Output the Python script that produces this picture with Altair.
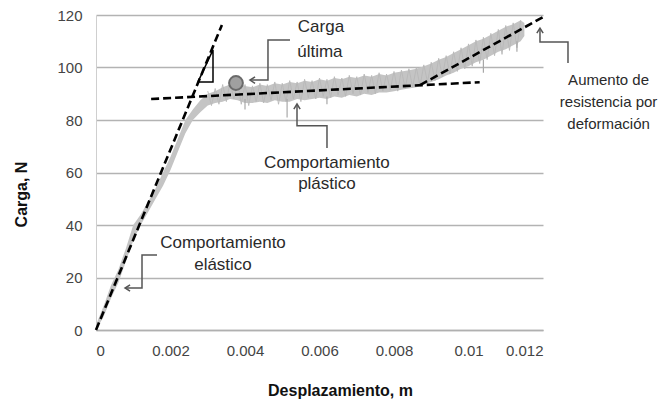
import altair as alt
import pandas as pd

# ---- measured curve (gray noisy band) ----
curve_x = [0.0000, 0.0002, 0.0004, 0.0006, 0.0008, 0.0010, 0.0012, 0.0014, 0.0016, 0.0018,
           0.0020, 0.0022, 0.0024, 0.0026, 0.0028, 0.0030, 0.0032, 0.0034, 0.0036, 0.0038,
           0.0040, 0.0042, 0.0044, 0.0046, 0.0048, 0.0050, 0.0052, 0.0054, 0.0056, 0.0058,
           0.0060, 0.0062, 0.0064, 0.0066, 0.0068, 0.0070, 0.0072, 0.0074, 0.0076, 0.0078,
           0.0080, 0.0082, 0.0084, 0.0086, 0.0088, 0.0090, 0.0092, 0.0094, 0.0096, 0.0098,
           0.0100, 0.0102, 0.0104, 0.0106, 0.0108, 0.0110, 0.0112, 0.0114, 0.0115]
curve_lo = [0, 5, 12, 18, 26, 34, 40, 45, 50, 55,
            61, 68, 75, 80, 83, 85.5, 86.5, 87, 88, 87.5,
            86.5, 86.5, 87, 86.5, 87.5, 87, 87, 88, 87.5, 88,
            88.5, 88, 89, 88.5, 89.5, 89, 90, 89.5, 90.5, 90.5,
            91, 91.5, 92, 92.5, 93.5, 94.5, 95.5, 97, 98, 99.5,
            100.5, 102, 103, 104.5, 106, 107, 108.5, 110, 112]
curve_hi = [2, 9, 17, 23, 31, 40, 44, 49, 54, 60,
            66, 73, 80, 84, 87.5, 90, 91, 92.5, 93.5, 94,
            93, 92.5, 93.5, 93, 94, 93.5, 94.5, 94, 95, 94.5,
            95.5, 95, 96, 95.5, 96.5, 96, 97, 96.5, 97.5, 97,
            98, 98.5, 99, 99.5, 100.5, 101.5, 103, 104, 105.5, 107,
            108.5, 110, 111, 112.5, 114, 115.5, 116.5, 118, 117]

# fine noise of the recorded signal (every 0.0001 m from 0.0030 to 0.0114)
noise_x = [round(0.0030 + 0.0001 * i, 4) for i in range(85)]
noise_y = [91, 85.5, 92, 86, 93.5, 87, 94.5, 88, 95, 86,
           93.5, 85.5, 93, 87, 94, 86.5, 93.5, 87.5, 94.5, 86,
           94, 87, 95, 88, 94.5, 87, 95.5, 88.5, 95, 88,
           96, 89, 95.5, 88.5, 96.5, 89.5, 96, 89, 97, 90,
           96.5, 89.5, 97.5, 90.5, 97, 90, 98, 91, 97.5, 91.5,
           98.5, 91, 99, 92, 99.5, 92.5, 100, 93, 101, 94.5,
           102, 95, 103.5, 96.5, 104.5, 97.5, 106, 98.5, 107.5, 99.5,
           109, 100.5, 110.5, 101.5, 111.5, 103, 113, 104.5, 114.5, 105,
           116, 106.5, 117, 107.5, 118]

# noise spikes (x, top, bottom)
spike_x = [0.0040, 0.00513, 0.0062, 0.0104, 0.0113]
spike_top = [88, 88, 89, 103, 110]
spike_bot = [84, 81, 86, 98, 106]

# ---- fitted dashed lines ----
fit_seg = ["elastica", "elastica", "plastica", "plastica", "endurec", "endurec"]
fit_x = [0.0, 0.00338, 0.00148, 0.0103, 0.0087, 0.01205]
fit_y = [0.0, 116.2, 88.0, 94.4, 93.3, 119.6]

# slope triangle
tri_x = [0.002738, 0.003141, 0.003141, 0.002738]
tri_y = [94.5, 94.5, 106.7, 94.5]

# ultimate load marker
ult_x = [0.003758]
ult_y = [94.1]

# ---- annotations ----
ann_group = ["u"] * 4 + ["p"] * 4 + ["e"] * 4 + ["a"] * 4
ann_x = [0.005208, 0.004617, 0.004617, 0.004134,
         0.006201, 0.006201, 0.005396, 0.005396,
         0.001638, 0.001235, 0.001235, 0.000779,
         0.012671, 0.012671, 0.011919, 0.011919]
ann_y = [110.5, 110.5, 95.2, 95.2,
         69.3, 77.8, 77.8, 86.1,
         28.6, 28.6, 16.0, 16.0,
         101.7, 109.7, 109.7, 115.0]

arrow_left_x = [0.004134, 0.000779]
arrow_left_y = [95.2, 16.0]
arrow_up_x = [0.005396, 0.011919]
arrow_up_y = [86.1, 115.0]

label_text = ["Carga", "última", "Comportamiento", "plástico",
              "Comportamiento", "elástico"]
label_x = [0.00604, 0.00601, 0.00620, 0.00620, 0.003409, 0.003409]
label_y = [115.4, 105.9, 63.6, 55.6, 33.1, 24.8]

right_text = ["Aumento de", "resistencia por", "deformación"]
right_x = [0.01376, 0.01376, 0.01376]
right_y = [95.2, 86.9, 78.5]

x_ticks = [0, 0.002, 0.004, 0.006, 0.008, 0.01, 0.012]
y_ticks = [0, 20, 40, 60, 80, 100, 120]

FONT = "Liberation Sans"

xs = alt.Scale(domain=[0, 0.012], nice=False, zero=False)
ys = alt.Scale(domain=[0, 120], nice=False)

band_df = pd.DataFrame({"x": curve_x, "lo": curve_lo, "hi": curve_hi})
band = alt.Chart(band_df).mark_area(color="#c4c4c4").encode(
    x=alt.X("x:Q", scale=xs,
            axis=alt.Axis(values=x_ticks, format="~g", title="Desplazamiento, m",
                          grid=False, ticks=False, labelPadding=13,
                          domainColor="#b0b0b0", domainWidth=1.5,
                          titleX=244, titleY=52, titleFontWeight="bold",
                          titleFontSize=16, titleColor="#111")),
    y=alt.Y("lo:Q", scale=ys,
            axis=alt.Axis(values=y_ticks, title="Carga, N", grid=True,
                          gridColor="#b3b3b3", gridWidth=1.5, ticks=False,
                          labelPadding=14, domainColor="#cfcfcf",
                          titleX=-75, titleY=179, titleBaseline="middle",
                          titleFontWeight="bold", titleFontSize=16, titleColor="#111")),
    y2="hi:Q",
)

noise_df = pd.DataFrame({"x": noise_x, "y": noise_y})
noise = alt.Chart(noise_df).mark_line(color="#b8b8b8", strokeWidth=0.9).encode(
    x=alt.X("x:Q", scale=xs), y=alt.Y("y:Q", scale=ys))

spike_df = pd.DataFrame({"x": spike_x, "t": spike_top, "b": spike_bot})
spikes = alt.Chart(spike_df).mark_rule(color="#a8a8a8", strokeWidth=1.2).encode(
    x=alt.X("x:Q", scale=xs), y=alt.Y("t:Q", scale=ys), y2="b:Q")

fit_df = pd.DataFrame({"seg": fit_seg, "x": fit_x, "y": fit_y})
fits = alt.Chart(fit_df).mark_line(color="#000", strokeWidth=2.6, strokeDash=[8, 4]).encode(
    x=alt.X("x:Q", scale=xs), y=alt.Y("y:Q", scale=ys), detail="seg:N")

tri_df = pd.DataFrame({"x": tri_x, "y": tri_y, "o": list(range(len(tri_x)))})
tri = alt.Chart(tri_df).mark_line(color="#000", strokeWidth=1.5).encode(
    x=alt.X("x:Q", scale=xs), y=alt.Y("y:Q", scale=ys), order="o:Q")

ult_df = pd.DataFrame({"x": ult_x, "y": ult_y})
ult = alt.Chart(ult_df).mark_point(shape="circle", size=190, filled=True, fill="#a0a0a0",
                                    stroke="#6a6a6a", strokeWidth=2, opacity=1).encode(
    x=alt.X("x:Q", scale=xs), y=alt.Y("y:Q", scale=ys))

ann_df = pd.DataFrame({"g": ann_group, "x": ann_x, "y": ann_y, "o": list(range(len(ann_x)))})
conn = alt.Chart(ann_df).mark_line(color="#555", strokeWidth=1.5).encode(
    x=alt.X("x:Q", scale=xs), y=alt.Y("y:Q", scale=ys), detail="g:N", order="o:Q")

al_df = pd.DataFrame({"x": arrow_left_x, "y": arrow_left_y})
arr_l = alt.Chart(al_df).mark_point(shape="M1.6,-1L0,0L1.6,1", size=40, filled=False,
                                     stroke="#555", strokeWidth=1.5, opacity=1).encode(
    x=alt.X("x:Q", scale=xs), y=alt.Y("y:Q", scale=ys))

au_df = pd.DataFrame({"x": arrow_up_x, "y": arrow_up_y})
arr_u = alt.Chart(au_df).mark_point(shape="M-1,1.6L0,0L1,1.6", size=40, filled=False,
                                     stroke="#555", strokeWidth=1.5, opacity=1).encode(
    x=alt.X("x:Q", scale=xs), y=alt.Y("y:Q", scale=ys))

lab_df = pd.DataFrame({"t": label_text, "x": label_x, "y": label_y})
labels = alt.Chart(lab_df).mark_text(font=FONT, fontSize=17, color="#2a2a2a",
                                      align="center", baseline="middle").encode(
    x=alt.X("x:Q", scale=xs), y=alt.Y("y:Q", scale=ys), text="t:N")

rt_df = pd.DataFrame({"t": right_text, "x": right_x, "y": right_y})
rlabels = alt.Chart(rt_df).mark_text(font=FONT, fontSize=15, color="#2a2a2a",
                                      align="center", baseline="middle").encode(
    x=alt.X("x:Q", scale=xs), y=alt.Y("y:Q", scale=ys), text="t:N")

chart = alt.layer(band, noise, spikes, fits, tri, conn, arr_l, arr_u, ult,
                  labels, rlabels).properties(
    width=447, height=315,
    padding={"left": 88, "top": 7, "right": 117, "bottom": 70},
    autosize=alt.AutoSizeParams(type="none"),
    background="white",
).configure_view(stroke=None).configure_axis(
    labelFont=FONT, titleFont=FONT, labelFontSize=15, labelColor="#444"
)

chart.save("out.html", embed_options={"renderer": "svg", "actions": False})
